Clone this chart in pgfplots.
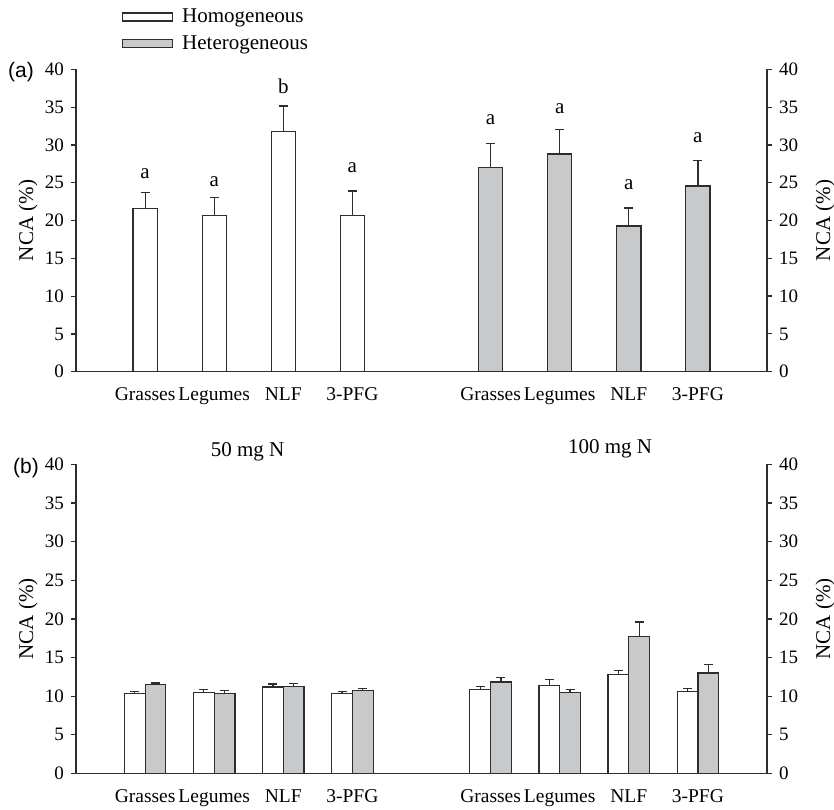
\documentclass[border=0pt]{standalone}
\usepackage{fontspec}
\setmainfont{Liberation Serif}
\newfontfamily\sansf{Liberation Sans}
\usepackage{pgfplots}
\pgfplotsset{compat=1.18}
\definecolor{barg}{RGB}{200,201,203}
\definecolor{edge}{RGB}{45,45,45}

\pgfplotstableread{
x y e
1 21.56 2.10
2 20.70 2.35
3 31.75 3.40
4 20.70 3.20
}\topHom
\pgfplotstableread{
x y e
6 27.00 3.16
7 28.80 3.20
8 19.27 2.38
9 24.56 3.40
}\topHet
\pgfplotstableread{
x y l
1 25.62 a
2 24.47 a
3 36.83 b
4 26.38 a
6 32.76 a
7 34.09 a
8 24.13 a
9 30.29 a
}\topLet
\pgfplotstableread{
x y e
0.85 10.39 0.17
1.85 10.52 0.38
2.85 11.20 0.39
3.85 10.30 0.30
5.85 10.90 0.34
6.85 11.37 0.83
7.85 12.85 0.47
8.85 10.60 0.35
}\botHom
\pgfplotstableread{
x y e
1.15 11.55 0.17
2.15 10.39 0.30
3.15 11.30 0.38
4.15 10.73 0.30
6.15 11.85 0.56
7.15 10.52 0.34
8.15 17.72 1.87
9.15 13.00 1.10
}\botHet

\pgfplotsset{
  base/.style={
    scale only axis, width=345.5pt, xmin=0, xmax=10, ymin=0, ymax=40,
    ytick={0,5,...,40}, xtick={1,2,3,4,6,7,8,9},
    xticklabels={Grasses,Legumes,NLF,3-PFG,Grasses,Legumes,NLF,3-PFG},
    tick align=outside, major tick length=2.5pt,
    x tick style={draw=none},
    axis line style={edge, line width=0.6pt},
    y tick style={edge, line width=0.6pt},
    /pgf/number format/assume math mode=true,
    yticklabel style={font=\fontsize{9.5}{10}\selectfont},
    xticklabel style={font=\fontsize{9.75}{11}\selectfont, yshift=-2pt},
    ylabel={NCA (\%)},
    anchor=south west, clip=false,
  },
  lft/.style={base, axis y line*=left, axis x line*=bottom,
    every axis y label/.style={at={(axis description cs:-0.0695,0.5)}, rotate=90, anchor=center, font=\fontsize{10.5}{12}\selectfont}},
  rgt/.style={base, axis y line*=right, axis x line=none, xtick=\empty,
    every axis y label/.style={at={(axis description cs:1.084,0.5)}, rotate=90, anchor=center, font=\fontsize{10.5}{12}\selectfont}},
  hombar/.style={ybar, bar shift=0pt, fill=white, draw=edge, line width=0.6pt,
    legend image code/.code={\draw[fill=white, draw=edge, line width=0.6pt] (0pt,-2pt) rectangle (25pt,2pt); \path (0pt,0pt) (27.5pt,0pt);}},
  hetbar/.style={ybar, bar shift=0pt, fill=barg, draw=edge, line width=0.6pt,
    legend image code/.code={\draw[fill=barg, draw=edge, line width=0.6pt] (0pt,-2pt) rectangle (25pt,2pt); \path (0pt,0pt) (27.5pt,0pt);}},
  errs/.style={error bars/.cd, y dir=plus, y explicit,
    error bar style={line width=0.6pt, edge},
    error mark options={rotate=90, mark size=2.25pt, line width=0.6pt, edge}},
}

\begin{document}
\begin{tikzpicture}
\path[use as bounding box] (0,0) rectangle (417pt,404.5pt);

% ---------- panel (a) ----------
\begin{axis}[lft, at={(38pt,218.65pt)}, height=151.2pt,
  legend style={at={(axis description cs:0.066,1.215)}, anchor=north west, draw=none, fill=none,
    font=\fontsize{10.5}{12}\selectfont, row sep=1pt, inner sep=0pt},
  legend cell align=left]
\addplot[hombar, bar width=0.35, errs] table[x=x, y=y, y error=e] {\topHom};
\addlegendentry{Homogeneous}
\addplot[hetbar, bar width=0.35, errs] table[x=x, y=y, y error=e] {\topHet};
\addlegendentry{Heterogeneous}
\addplot[forget plot, only marks, mark=*, mark size=0pt, draw=none, fill=none,
  mark options={draw=none, fill=none},
  nodes near coords, point meta=explicit symbolic,
  nodes near coords style={anchor=base, inner sep=0pt, font=\fontsize{10.5}{12}\selectfont, text=black}]
  table[x=x, y=y, meta=l] {\topLet};
\end{axis}
\begin{axis}[rgt, at={(38pt,218.65pt)}, height=151.2pt]
\end{axis}

% ---------- panel (b) ----------
\begin{axis}[lft, at={(38pt,17.75pt)}, height=154.6pt]
\addplot[hombar, bar width=0.30, errs] table[x=x, y=y, y error=e] {\botHom};
\addplot[hetbar, bar width=0.30, errs] table[x=x, y=y, y error=e] {\botHet};
\end{axis}
\begin{axis}[rgt, at={(38pt,17.75pt)}, height=154.6pt]
\end{axis}

% ---------- annotations ----------
\node[font=\sansf\fontsize{10.5}{12}\selectfont] at (10.5pt,368.5pt) {(a)};
\node[font=\sansf\fontsize{10.5}{12}\selectfont] at (13pt,170.5pt) {(b)};
\node[font=\fontsize{10.5}{12}\selectfont] at (123.75pt,178.5pt) {50 mg N};
\node[font=\fontsize{10.5}{12}\selectfont] at (305pt,180pt) {100 mg N};
\end{tikzpicture}
\end{document}
